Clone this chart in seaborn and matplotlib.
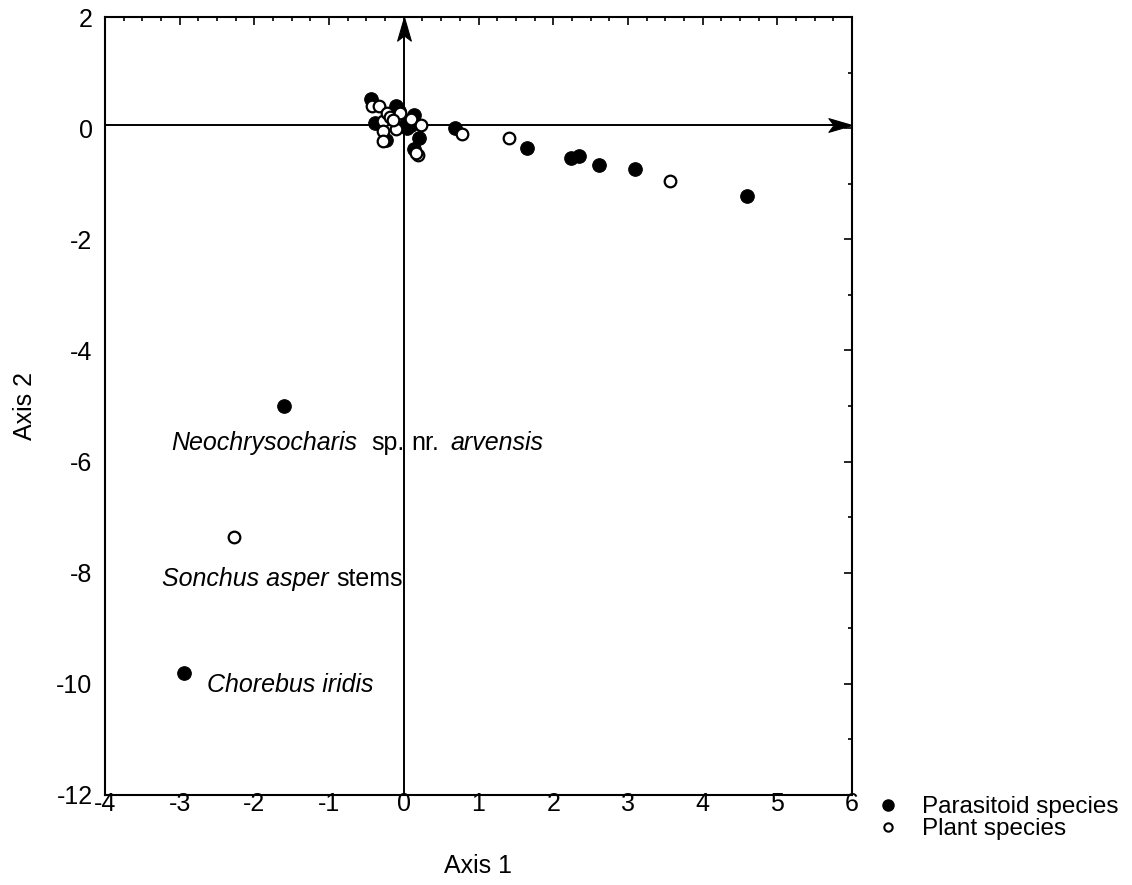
import numpy as np
import pandas as pd
import matplotlib
matplotlib.use("Agg")
import matplotlib.pyplot as plt
from matplotlib.lines import Line2D
from matplotlib.path import Path
from matplotlib.ticker import MultipleLocator
import seaborn as sns

# ---- data ----
para_x = [-0.44, -0.39, -0.24, -0.10, 0.13, 0.04, 0.00, 0.20, 0.13, -0.06, 0.10,
          0.68, 1.65, 2.24, 2.35, 2.61, 3.10, 4.59, -1.60, -2.94]
para_y = [0.52, 0.10, -0.21, 0.39, 0.24, 0.00, 0.03, -0.18, -0.38, 0.30, 0.05,
          0.01, -0.36, -0.53, -0.50, -0.67, -0.74, -1.23, -5.00, -9.80]
plant_x = [-0.43, -0.33, -0.28, -0.23, -0.18, -0.05, 0.10, 0.23, -0.10, -0.28, -0.28,
           0.19, 0.17, -0.14, 0.78, 1.41, 3.56, -2.27]
plant_y = [0.39, 0.39, 0.12, 0.27, 0.20, 0.28, 0.17, 0.06, -0.01, -0.06, -0.24,
           -0.48, -0.45, 0.14, -0.11, -0.18, -0.95, -7.36]
legend_labels = ["Parasitoid species", "Plant species"]
xticks = [-4, -3, -2, -1, 0, 1, 2, 3, 4, 5, 6]
yticks = [2, 0, -2, -4, -6, -8, -10, -12]

para = pd.DataFrame({"x": para_x, "y": para_y})
plant = pd.DataFrame({"x": plant_x, "y": plant_y})

sns.set_style("white")
plt.rcParams["font.family"] = ["Liberation Sans", "DejaVu Sans"]
plt.rcParams.update({"text.color": "black", "axes.labelcolor": "black",
                     "xtick.color": "black", "ytick.color": "black"})

fig = plt.figure(figsize=(11.32, 8.85), dpi=100)
ax = fig.add_axes([105/1132, 1-795/885, (852-105)/1132, (795-17)/885])

X0, X1, Y0, Y1 = -4, 6, -12, 2
YH = 0.05  # height of the horizontal axis line

# axis lines
ax.plot([X0, X1 - 0.15], [YH, YH], color="black", lw=1.4, zorder=1)
ax.plot([0, 0], [Y0, Y1 - 0.2], color="black", lw=1.4, zorder=1)

# stealth-style arrowheads (marker shapes, tip at marker centre)
head_right = Path([(0, 0), (-1.0, 0.29), (-0.78, 0), (-1.0, -0.29), (0, 0)],
                  [Path.MOVETO, Path.LINETO, Path.LINETO, Path.LINETO, Path.CLOSEPOLY])
head_up = Path([(0, 0), (0.29, -1.0), (0, -0.78), (-0.29, -1.0), (0, 0)],
               [Path.MOVETO, Path.LINETO, Path.LINETO, Path.LINETO, Path.CLOSEPOLY])
ax.plot([X1], [YH], marker=head_right, markersize=34, color="black",
        markeredgewidth=0.8, linestyle="none", zorder=2, clip_on=False)
ax.plot([0], [Y1], marker=head_up, markersize=34, color="black",
        markeredgewidth=0.8, linestyle="none", zorder=2, clip_on=False)

sns.scatterplot(data=para, x="x", y="y", ax=ax, color="black", s=95,
                edgecolor="black", linewidth=0.8, zorder=3, legend=False)
sns.scatterplot(data=plant, x="x", y="y", ax=ax, color="white", s=70,
                edgecolor="black", linewidth=1.6, zorder=4, legend=False)

ax.set_xlim(X0, X1)
ax.set_ylim(Y0, Y1)
ax.set_xticks(xticks)
ax.set_yticks(yticks)
ax.set_xticklabels([str(t) for t in xticks])
ax.set_yticklabels([str(t) for t in yticks])
ax.xaxis.set_minor_locator(MultipleLocator(0.25))
ax.yaxis.set_minor_locator(MultipleLocator(1))
ax.tick_params(which="major", direction="in", length=6, width=1.2,
               top=True, right=True, labelsize=18)
ax.tick_params(axis="x", which="major", pad=-2)
ax.tick_params(axis="y", which="major", pad=9)
ax.tick_params(which="minor", direction="in", length=3, width=1.2,
               top=True, right=True)
for sp in ax.spines.values():
    sp.set_linewidth(1.5)
    sp.set_color("black")

ax.set_xlabel("Axis 1", fontsize=18, labelpad=27)
ax.set_ylabel("Axis 2", fontsize=18, labelpad=14)

# annotations
fs = 18
ax.text(-3.12, -5.67, "Neochrysocharis", style="italic", fontsize=fs, va="center", ha="left")
ax.text(-0.44, -5.67, "sp.", fontsize=fs, va="center", ha="left")
ax.text(0.10, -5.67, "nr.", fontsize=fs, va="center", ha="left")
ax.text(0.62, -5.67, "arvensis", style="italic", fontsize=fs, va="center", ha="left")
ax.text(-3.24, -8.11, "Sonchus asper", style="italic", fontsize=fs, va="center", ha="left")
ax.text(-0.91, -8.11, "stems", fontsize=fs, va="center", ha="left")
ax.text(-2.63, -10.02, "Chorebus iridis", style="italic", fontsize=fs, va="center", ha="left")

handles = [Line2D([], [], marker="o", linestyle="none", markerfacecolor="black",
                  markeredgecolor="black", markersize=8),
           Line2D([], [], marker="o", linestyle="none", markerfacecolor="white",
                  markeredgecolor="black", markeredgewidth=1.5, markersize=6)]
fig.legend(handles, legend_labels, loc="upper left",
           bbox_to_anchor=(861/1132, 1-784/885), frameon=False, fontsize=17.5,
           handletextpad=0.8, labelspacing=0.0, borderpad=0, handlelength=1.2)

fig.savefig("out.png", dpi=100)
